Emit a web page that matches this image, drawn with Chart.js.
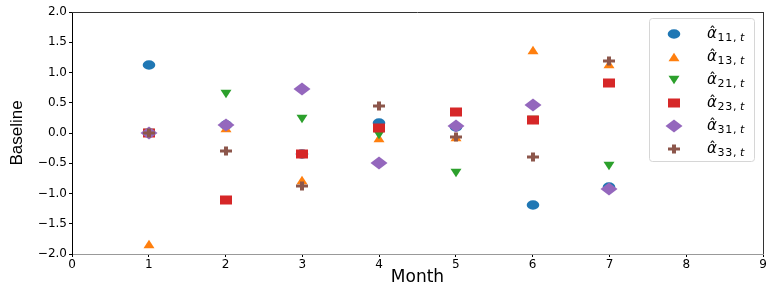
<!DOCTYPE html>
<html>
<head>
<meta charset="utf-8">
<script src="https://cdn.jsdelivr.net/npm/chart.js@4.4.0/dist/chart.umd.min.js"></script>
<style>
html,body{margin:0;padding:0;background:#fff;}
#wrap{width:778px;height:294px;position:relative;}
</style>
</head>
<body>
<div id="wrap"><canvas id="c" width="778" height="294"></canvas></div>
<script>
// ---- data ----
const months = [1, 2, 3, 4, 5, 6, 7];
const a11 = [1.13, 0.13, -0.35, 0.16, 0.10, -1.19, -0.90];
const a13 = [-1.83, 0.09, -0.78, -0.09, -0.06, 1.37, 1.14];
const a21 = [0.00, 0.65, 0.23, -0.03, -0.66, 0.21, -0.55];
const a23 = [0.00, -1.10, -0.35, 0.08, 0.34, 0.21, 0.83];
const a31 = [0.00, 0.14, 0.72, -0.49, 0.11, 0.47, -0.93];
const a33 = [0.00, -0.29, -0.87, 0.44, -0.06, -0.40, 1.19];
const seriesSubs = ['11', '13', '21', '23', '31', '33'];
const xTicks = [0, 1, 2, 3, 4, 5, 6, 7, 8, 9];
const yTicks = [-2.0, -1.5, -1.0, -0.5, 0.0, 0.5, 1.0, 1.5, 2.0];

const colors = ['#1f77b4', '#ff7f0e', '#2ca02c', '#d62728', '#9467bd', '#8c564b'];

// ---- marker images ----
function mk(w, h, color, draw) {
  const c = document.createElement('canvas');
  c.width = w; c.height = h;
  const g = c.getContext('2d');
  g.fillStyle = color;
  draw(g, w, h);
  return c;
}
const markers = [
  mk(14, 10, colors[0], (g, w, h) => { g.beginPath(); g.ellipse(w/2, h/2, 6.3, 4.7, 0, 0, Math.PI*2); g.fill(); }),
  mk(12, 10, colors[1], (g, w, h) => { g.beginPath(); g.moveTo(0.5, 9.3); g.lineTo(11.5, 9.3); g.lineTo(6, 0.7); g.closePath(); g.fill(); }),
  mk(12, 10, colors[2], (g, w, h) => { g.beginPath(); g.moveTo(0.5, 0.7); g.lineTo(11.5, 0.7); g.lineTo(6, 9.3); g.closePath(); g.fill(); }),
  mk(12, 10, colors[3], (g, w, h) => { g.fillRect(0, 0.5, 12, 9); }),
  mk(18, 14, colors[4], (g, w, h) => { g.beginPath(); g.moveTo(0.5, 7); g.lineTo(9, 0.5); g.lineTo(17.5, 7); g.lineTo(9, 13.5); g.closePath(); g.fill(); }),
  mk(12, 10, colors[5], (g, w, h) => { g.fillRect(0, 3.5, 12, 3); g.fillRect(4, 0.5, 4, 9); })
];

const allSeries = [a11, a13, a21, a23, a31, a33];
const datasets = allSeries.map((arr, i) => ({
  label: 'a' + seriesSubs[i],
  data: months.map((m, j) => ({x: m, y: arr[j]})),
  pointStyle: markers[i],
  backgroundColor: colors[i],
  borderColor: colors[i],
  showLine: false,
  order: 5 - i
}));

function fmtY(v) {
  const s = Math.abs(v).toFixed(1);
  return (v < -1e-9 ? '\u2212' : '') + s;
}

// snap point centres to whole pixels so marker images stay crisp
const snapPlugin = {
  id: 'snap',
  beforeDatasetsDraw(chart) {
    chart.getSortedVisibleDatasetMetas().forEach(meta => {
      meta.data.forEach(p => { p.x = Math.round(p.x); p.y = Math.round(p.y); });
    });
  }
};

const framePlugin = {
  id: 'frame',
  afterDraw(chart) {
    const {ctx, chartArea: a} = chart;
    ctx.save();
    ctx.lineWidth = 1;
    ctx.strokeStyle = '#333';
    ctx.beginPath();
    ctx.moveTo(a.left, Math.round(a.top) + 0.5);
    ctx.lineTo(a.right, Math.round(a.top) + 0.5);
    ctx.moveTo(Math.round(a.right) + 0.5, a.top);
    ctx.lineTo(Math.round(a.right) + 0.5, a.bottom);
    ctx.stroke();
    ctx.restore();
  }
};

const legendPlugin = {
  id: 'mathLegend',
  afterDraw(chart) {
    const ctx = chart.ctx;
    ctx.save();
    const x0 = 649.5, y0 = 18.5, w = 105, h = 143, r = 3;
    ctx.beginPath();
    ctx.moveTo(x0 + r, y0);
    ctx.arcTo(x0 + w, y0, x0 + w, y0 + h, r);
    ctx.arcTo(x0 + w, y0 + h, x0, y0 + h, r);
    ctx.arcTo(x0, y0 + h, x0, y0, r);
    ctx.arcTo(x0, y0, x0 + w, y0, r);
    ctx.closePath();
    ctx.fillStyle = 'rgba(255,255,255,0.8)';
    ctx.fill();
    ctx.strokeStyle = '#d6d6d6';
    ctx.lineWidth = 1;
    ctx.stroke();
    chart.data.datasets.forEach((ds, i) => {
      const cy = 33.5 + i * 23;
      const img = ds.pointStyle;
      ctx.drawImage(img, Math.round(674 - img.width / 2), Math.round(cy - img.height / 2));
      ctx.fillStyle = '#000';
      ctx.textBaseline = 'alphabetic';
      ctx.textAlign = 'left';
      ctx.font = 'italic 15px "DejaVu Sans"';
      const tx = 707;
      ctx.fillText('\u03b1', tx, cy + 4);
      ctx.font = '14px "DejaVu Sans"';
      ctx.fillText('\u02c6', tx + 2, cy + 3);
      ctx.font = '11px "DejaVu Sans"';
      try { ctx.letterSpacing = '0.8px'; } catch (e) {}
      const sub = seriesSubs[i] + ',';
      ctx.fillText(sub, tx + 10.5, cy + 7.5);
      const sw = ctx.measureText(sub).width;
      ctx.font = 'italic 11px "DejaVu Sans"';
      ctx.fillText('t', tx + 10.5 + sw + 2.5, cy + 7.5);
      try { ctx.letterSpacing = '0px'; } catch (e) {}
    });
    ctx.restore();
  }
};

new Chart(document.getElementById('c'), {
  type: 'scatter',
  data: {datasets},
  options: {
    responsive: false,
    animation: false,
    events: [],
    layout: {padding: {left: 0, right: 15, top: 12, bottom: 0}},
    plugins: {legend: {display: false}, tooltip: {enabled: false}},
    scales: {
      x: {
        type: 'linear',
        min: 0, max: 9,
        afterFit(s) { s.height = 40; },
        afterBuildTicks(s) { s.ticks = xTicks.map(v => ({value: v})); },
        ticks: {
          autoSkip: false, maxRotation: 0, padding: 1,
          color: '#000',
          font: {family: 'DejaVu Sans', size: 12},
          callback: v => String(v)
        },
        grid: {display: true, drawOnChartArea: false, drawTicks: true, tickLength: 3, color: '#000'},
        border: {display: true, color: '#999', width: 1},
        title: {display: true, text: 'Month', color: '#000', font: {family: 'DejaVu Sans', size: 17}, padding: {top: 0, bottom: 6}}
      },
      y: {
        type: 'linear',
        min: -2, max: 2,
        afterFit(s) { s.width = 72; },
        afterBuildTicks(s) { s.ticks = yTicks.map(v => ({value: v})); },
        ticks: {
          autoSkip: false, padding: 2,
          color: '#000',
          font: {family: 'DejaVu Sans', size: 12},
          callback: v => fmtY(v)
        },
        grid: {display: true, drawOnChartArea: false, drawTicks: true, tickLength: 3, color: '#000'},
        border: {display: true, color: '#000', width: 1},
        title: {display: true, text: 'Baseline', color: '#000', font: {family: '"Liberation Sans Narrow", "Liberation Sans"', size: 17}, padding: {top: 7, bottom: 0}}
      }
    }
  },
  plugins: [snapPlugin, framePlugin, legendPlugin]
});
</script>
</body>
</html>
